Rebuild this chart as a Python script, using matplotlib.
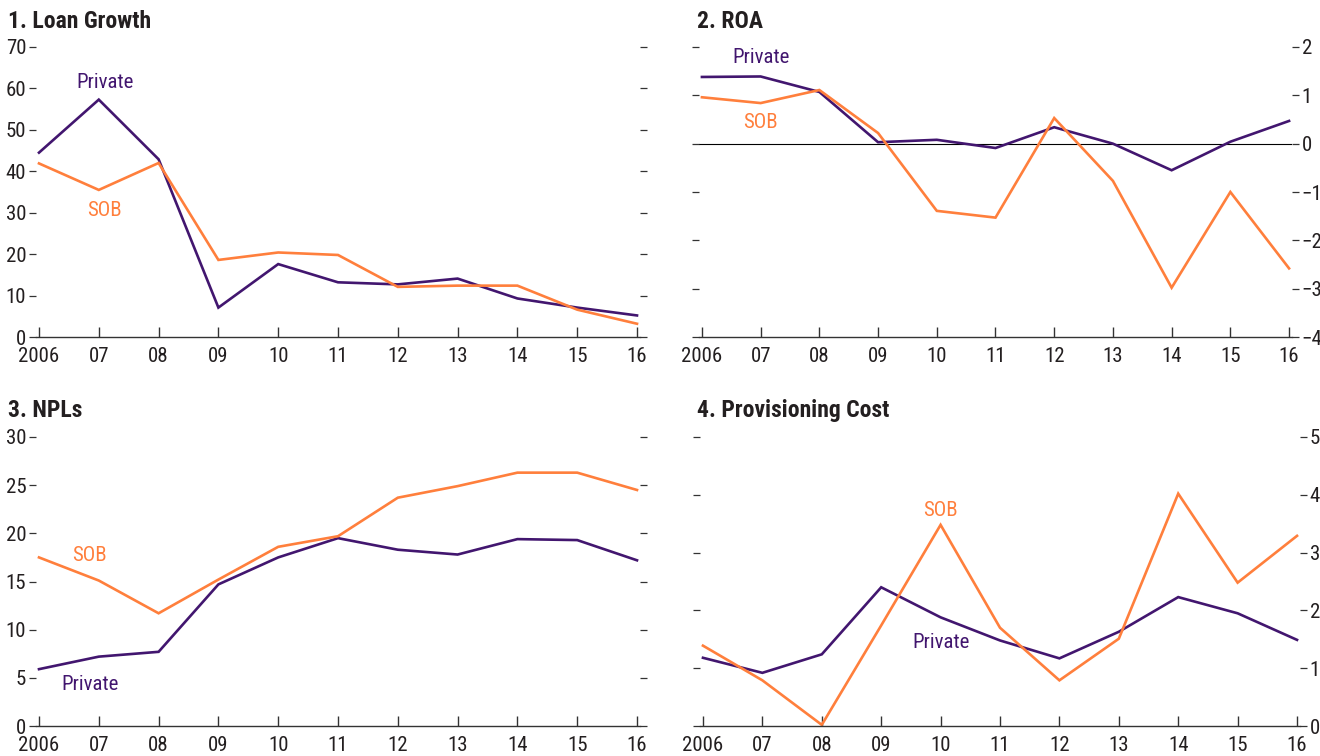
import matplotlib
matplotlib.use("Agg")
import matplotlib.pyplot as plt

plt.rcParams['font.family'] = ['Liberation Sans Narrow', 'Roboto Condensed', 'Archivo Narrow', 'DejaVu Sans']
TITLE_FAMILY = ['Liberation Sans Narrow', 'Roboto Condensed', 'Barlow Semi Condensed', 'DejaVu Sans']

years = [2006, 2007, 2008, 2009, 2010, 2011, 2012, 2013, 2014, 2015, 2016]
year_labels = ['2006', '07', '08', '09', '10', '11', '12', '13', '14', '15', '16']

loan_private = [44.5, 57.3, 42.9, 7.1, 17.6, 13.2, 12.7, 14.1, 9.3, 7.1, 5.2]
loan_sob = [41.9, 35.5, 42.0, 18.6, 20.4, 19.8, 12.1, 12.4, 12.4, 6.6, 3.2]

roa_private = [1.38, 1.39, 1.07, 0.03, 0.08, -0.09, 0.34, 0.0, -0.55, 0.04, 0.47]
roa_sob = [0.96, 0.84, 1.11, 0.22, -1.39, -1.53, 0.53, -0.77, -2.98, -1.00, -2.58]

npl_private = [5.9, 7.2, 7.7, 14.7, 17.5, 19.5, 18.3, 17.8, 19.4, 19.3, 17.2]
npl_sob = [17.5, 15.1, 11.7, 15.2, 18.6, 19.7, 23.7, 24.9, 26.3, 26.3, 24.5]

prov_private = [1.18, 0.92, 1.24, 2.40, 1.88, 1.48, 1.17, 1.63, 2.23, 1.95, 1.49]
prov_sob = [1.39, 0.79, 0.02, 1.74, 3.48, 1.70, 0.79, 1.51, 4.02, 2.48, 3.29]

titles = ['1. Loan Growth', '2. ROA', '3. NPLs', '4. Provisioning Cost']

PURPLE = '#42166f'
ORANGE = '#ff7f3c'
AXC = '#333333'
TXT = '#231f20'
FS = 15

W, H = 1320, 756
fig = plt.figure(figsize=(W / 100, H / 100), dpi=100)
fig.patch.set_facecolor('white')


def add_ax(l, t, r, b):
    return fig.add_axes([l / W, 1 - b / H, (r - l) / W, (b - t) / H])


def style(ax, ylim, yticks, side):
    ax.set_xlim(2006 - 0.05, 2016 + 0.05)
    ax.set_ylim(*ylim)
    for s in ['top', 'left', 'right']:
        ax.spines[s].set_visible(False)
    ax.spines['bottom'].set_color(AXC)
    ax.spines['bottom'].set_linewidth(1.0)
    ax.set_xticks(years)
    ax.set_xticklabels(year_labels)
    ax.tick_params(axis='x', direction='in', length=7, width=1.0, color=AXC,
                   pad=7, labelsize=FS, labelcolor=TXT)
    ax.set_yticks(yticks)
    ax.set_yticklabels([('\u2212' + str(-v)) if v < 0 else str(v) for v in yticks])
    ax.tick_params(axis='y', direction='out', length=5, width=0.9, color=AXC,
                   pad=2, labelsize=FS, labelcolor=TXT,
                   left=True, right=True,
                   labelleft=(side == 'left'), labelright=(side == 'right'))
    ax.patch.set_alpha(0)


# Panel 1
ax1 = add_ax(36, 47, 640, 337)
ax1.plot(years, loan_private, color=PURPLE, lw=1.9, solid_joinstyle='miter')
ax1.plot(years, loan_sob, color=ORANGE, lw=1.9, solid_joinstyle='miter')
style(ax1, (0, 70), list(range(0, 71, 10)), 'left')
ax1.text(2007.1, 61.5, 'Private', color=PURPLE, fontsize=FS, ha='center', va='center')
ax1.text(2007.1, 30.5, 'SOB', color=ORANGE, fontsize=FS, ha='center', va='center')

# Panel 2
ax2 = add_ax(699, 47, 1292, 337)
ax2.axhline(0, color='#000000', lw=0.8, zorder=1)
ax2.plot(years, roa_private, color=PURPLE, lw=1.9, solid_joinstyle='miter')
ax2.plot(years, roa_sob, color=ORANGE, lw=1.9, solid_joinstyle='miter')
style(ax2, (-4, 2), list(range(-4, 3)), 'right')
ax2.text(2007.0, 1.78, 'Private', color=PURPLE, fontsize=FS, ha='center', va='center')
ax2.text(2007.0, 0.43, 'SOB', color=ORANGE, fontsize=FS, ha='center', va='center')

# Panel 3
ax3 = add_ax(36, 437, 640, 726)
ax3.plot(years, npl_private, color=PURPLE, lw=1.9, solid_joinstyle='miter')
ax3.plot(years, npl_sob, color=ORANGE, lw=1.9, solid_joinstyle='miter')
style(ax3, (0, 30), list(range(0, 31, 5)), 'left')
ax3.text(2006.85, 17.7, 'SOB', color=ORANGE, fontsize=FS, ha='center', va='center')
ax3.text(2006.85, 4.3, 'Private', color=PURPLE, fontsize=FS, ha='center', va='center')

# Panel 4
ax4 = add_ax(700, 437, 1300, 726)
ax4.plot(years, prov_private, color=PURPLE, lw=1.9, solid_joinstyle='miter')
ax4.plot(years, prov_sob, color=ORANGE, lw=1.9, solid_joinstyle='miter')
style(ax4, (0, 5), list(range(0, 6)), 'right')
ax4.text(2010.0, 3.72, 'SOB', color=ORANGE, fontsize=FS, ha='center', va='center')
ax4.text(2010.0, 1.44, 'Private', color=PURPLE, fontsize=FS, ha='center', va='center')

# Titles
for (x, y), t in zip([(8, 21), (697, 21), (8, 411), (697, 411)], titles):
    fig.text(x / W, 1 - y / H, t, fontsize=17, fontweight='bold', color=TXT,
             family=TITLE_FAMILY, ha='left', va='center')

fig.savefig('out.png', dpi=100, facecolor='white')
